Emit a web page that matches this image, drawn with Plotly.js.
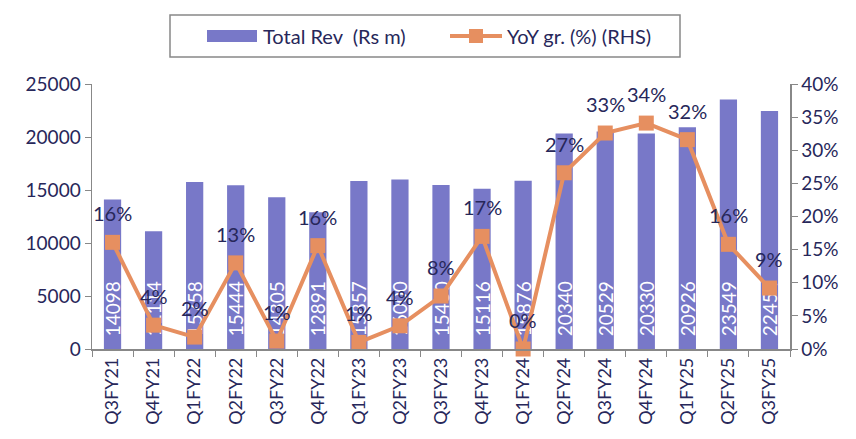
<!DOCTYPE html>
<html><head><meta charset="utf-8">
<script src="https://cdn.plot.ly/plotly-3.0.1.min.js"></script>
<style>body{margin:0;background:#fff}#c{width:856px;height:439px}</style>
</head><body><div id="c"></div>
<script>
const quarters = ["Q3FY21","Q4FY21","Q1FY22","Q2FY22","Q3FY22","Q4FY22","Q1FY23","Q2FY23","Q3FY23","Q4FY23","Q1FY24","Q2FY24","Q3FY24","Q4FY24","Q1FY25","Q2FY25","Q3FY25"];
const revenue = [14098,11114,15758,15444,14305,12891,15857,16000,15460,15116,15876,20340,20529,20330,20926,23549,22454];
const yoyGrowth = [16.1,3.6,1.8,13.0,1.2,15.6,1.0,3.5,8.0,17.0,0.0,26.6,32.6,34.1,31.6,15.8,9.2];
const yoyLabels = yoyGrowth.map(v => Math.round(v) + "%");
const legendNames = ["Total Rev  (Rs m)", "YoY gr. (%) (RHS)"];

const navy = "#27275a";
const barColor = "#7878c8";
const lineColor = "#e68f60";
const fontFam = "Lato, 'Open Sans', sans-serif";

// plot area in pixels: x 92..790, y 84..349
const px = v => (v - 92) / 698;
const py = v => (349 - v) / 265;

const traces = [
  {type:"bar", name:legendNames[0], x:quarters, y:revenue, marker:{color:barColor},
   width:0.42, text:revenue.map(v => "\u00a0\u00a0" + v), textposition:"inside", insidetextanchor:"start",
   textangle:-90, textfont:{color:"#ffffff", size:19, family:fontFam}, cliponaxis:false},
  {type:"scatter", mode:"lines+markers", name:legendNames[1], x:quarters, y:yoyGrowth, yaxis:"y2",
   line:{color:lineColor, width:4}, marker:{symbol:"square", size:15, color:lineColor}, cliponaxis:false}
];

const labelAnns = quarters.map((q, i) => ({
  x:q, y:yoyGrowth[i], xref:"x", yref:"y2", text:yoyLabels[i], showarrow:false,
  xanchor:"center", yanchor:"bottom", yshift:15, font:{size:20, color:navy, family:fontFam}
}));

const layout = {
  width:856, height:439,
  margin:{l:92, r:66, t:84, b:90, autoexpand:false},
  paper_bgcolor:"#fff", plot_bgcolor:"#fff",
  font:{family:fontFam, color:navy, size:17},
  showlegend:false,
  uniformtext:{mode:"show", minsize:19},
  xaxis:{type:"category", range:[-0.5, quarters.length - 0.5], showline:true, linecolor:"#888", linewidth:1.5, ticks:"outside",
         tickson:"boundaries", ticklen:6, tickcolor:"#888", tickangle:-90,
         tickfont:{size:18, color:navy}, showgrid:false},
  yaxis:{range:[0,25000], dtick:5000, tickformat:"d", showline:true, linecolor:"#888", linewidth:1.5,
         ticks:"outside", ticklen:6, tickcolor:"#888", showgrid:false, zeroline:false,
         tickfont:{size:19, color:navy}},
  yaxis2:{range:[0,40], dtick:5, overlaying:"y", side:"right", showline:true, linecolor:"#888",
          linewidth:1.5, ticks:"outside", ticklen:6, tickcolor:"#888", showgrid:false, zeroline:false,
          ticksuffix:"%", tickfont:{size:19, color:navy}},
  shapes:[
    {type:"rect", xref:"paper", yref:"paper", x0:px(170), x1:px(680), y0:py(57), y1:py(15),
     line:{color:"#888", width:1.5}, fillcolor:"rgba(0,0,0,0)"},
    {type:"rect", xref:"paper", yref:"paper", x0:px(207), x1:px(257), y0:py(42), y1:py(30),
     line:{width:0}, fillcolor:barColor},
    {type:"line", xref:"paper", yref:"paper", x0:px(450), x1:px(502), y0:py(36), y1:py(36),
     line:{color:lineColor, width:4}},
    {type:"rect", xref:"paper", yref:"paper", x0:px(469), x1:px(483), y0:py(43), y1:py(29),
     line:{width:0}, fillcolor:lineColor}
  ],
  annotations:[
    {xref:"paper", yref:"paper", x:px(261), y:py(36), xanchor:"left", yanchor:"middle",
     text:legendNames[0], showarrow:false, font:{size:20, color:navy}},
    {xref:"paper", yref:"paper", x:px(505), y:py(36), xanchor:"left", yanchor:"middle",
     text:legendNames[1], showarrow:false, font:{size:20, color:navy}}
  ].concat(labelAnns),
  bargap:0.5
};
Plotly.newPlot("c", traces, layout, {displayModeBar:false, staticPlot:true});
</script></body></html>
